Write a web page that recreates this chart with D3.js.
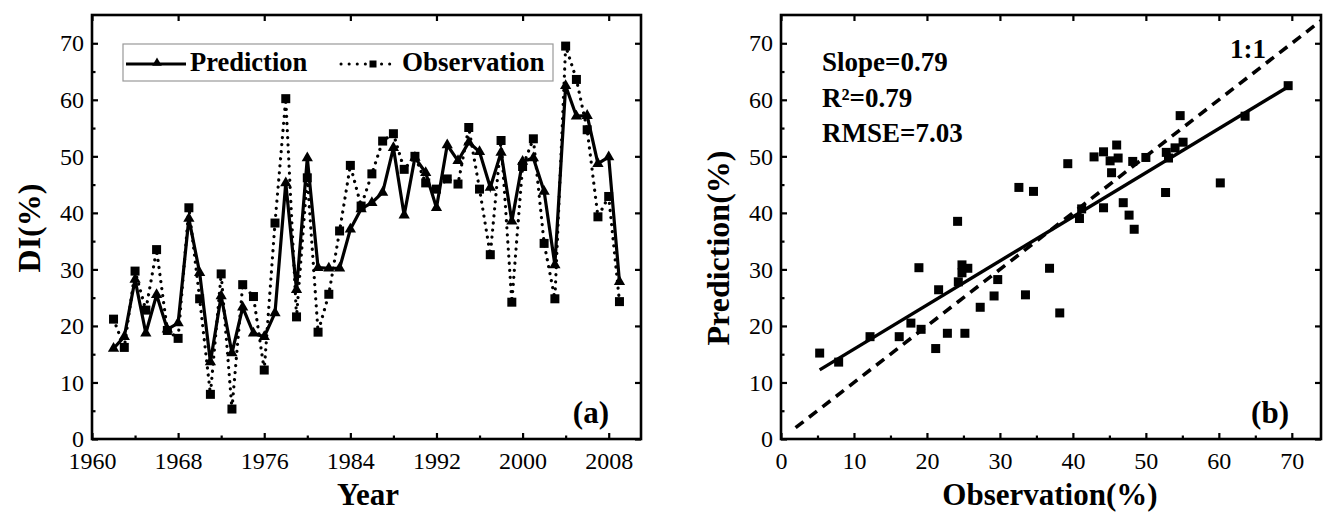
<!DOCTYPE html>
<html>
<head>
<meta charset="utf-8">
<script src="https://cdn.jsdelivr.net/npm/d3@7"></script>
<style>
  body { margin: 0; background: #fff; }
  text { font-family: "Liberation Serif", "Times New Roman", serif; fill: #000; }
  .tick text { font-size: 24px; }
  .bold { font-weight: bold; }
</style>
</head>
<body>
<svg id="chart" width="1323" height="513"></svg>
<script>
// years 1962 - 2009
let years = d3.range(1962, 2010);

let prediction = [
  16.0, 18.1, 28.2, 18.7, 25.5, 19.4, 20.5, 39.0, 29.4, 13.6,
  25.3, 15.2, 23.3, 18.7, 18.1, 22.3, 45.3, 26.4, 49.7, 30.3,
  30.2, 30.2, 37.1, 40.7, 41.8, 43.6, 51.5, 39.6, 49.8, 47.1,
  40.9, 52.0, 49.2, 52.5, 50.8, 44.5, 50.7, 38.5, 49.1, 49.7,
  43.8, 30.8, 62.5, 57.1, 57.2, 48.7, 49.9, 27.8,
];

let observation = [
  21.2, 16.2, 29.7, 22.8, 33.5, 19.2, 17.8, 40.9, 24.8, 7.9,
  29.2, 5.3, 27.3, 25.2, 12.2, 38.2, 60.2, 21.6, 46.2, 18.9,
  25.6, 36.8, 48.4, 41.2, 46.9, 52.7, 54.0, 47.7, 50.0, 45.3,
  44.2, 46.0, 45.1, 55.1, 44.2, 32.6, 52.8, 24.2, 48.2, 53.1,
  34.6, 24.8, 69.5, 63.6, 54.7, 39.3, 42.9, 24.3,
];

let yearTicks = [1960, 1968, 1976, 1984, 1992, 2000, 2008];
let yearMinorTicks = [1964, 1972, 1980, 1988, 1996, 2004];
let obsTicks = [0, 10, 20, 30, 40, 50, 60, 70];
let obsMinorTicks = [5, 15, 25, 35, 45, 55, 65];
let valueTicks = [0, 10, 20, 30, 40, 50, 60, 70];
let valueMinorTicks = [5, 15, 25, 35, 45, 55, 65];

// fitted line and stats
let fitSlope = 0.78;
let fitIntercept = 8.1;
let fitRange = [5.3, 69.5];
let statsText = ["Slope=0.79", "R²=0.79", "RMSE=7.03"];

let svg = d3.select("#chart");

let plotTop = 15;
let plotBottom = 439;

let leftBox = { x0: 92, x1: 641 };
let rightBox = { x0: 781, x1: 1321 };

let yScale = d3.scaleLinear().domain([0, 75]).range([plotBottom, plotTop]);
let xYear = d3.scaleLinear().domain([1960, 2011]).range([leftBox.x0, leftBox.x1]);
let xObs = d3.scaleLinear().domain([0, 74]).range([rightBox.x0, rightBox.x1]);

let data = years.map((y, i) => ({
  year: y,
  pred: prediction[i],
  obs: observation[i],
}));

drawFrame(xYear, yearTicks, yearMinorTicks, leftBox, "a");
drawFrame(xObs, obsTicks, obsMinorTicks, rightBox, "b");
drawTimeSeries();
drawScatter();
drawTitles();

function drawFrame(xScale, majors, minors, box, clipId) {
  let g = svg.append("g");

  svg
    .append("clipPath")
    .attr("id", "clip-" + clipId)
    .append("rect")
    .attr("x", box.x0)
    .attr("y", plotTop)
    .attr("width", box.x1 - box.x0)
    .attr("height", plotBottom - plotTop);

  // bottom axis, ticks pointing inward
  g.append("g")
    .attr("transform", `translate(0,${plotBottom})`)
    .call(d3.axisBottom(xScale).tickValues(majors).tickSize(-6).tickPadding(13).tickFormat(d3.format("d")));
  g.append("g")
    .attr("transform", `translate(0,${plotBottom})`)
    .call(d3.axisBottom(xScale).tickValues(minors).tickSize(-3.5).tickFormat(""));
  // top axis, majors only
  g.append("g")
    .attr("transform", `translate(0,${plotTop})`)
    .call(d3.axisTop(xScale).tickValues(majors).tickSize(-6).tickFormat(""));

  // left axis
  g.append("g")
    .attr("transform", `translate(${box.x0},0)`)
    .call(d3.axisLeft(yScale).tickValues(valueTicks).tickSize(-6).tickPadding(8));
  g.append("g")
    .attr("transform", `translate(${box.x0},0)`)
    .call(d3.axisLeft(yScale).tickValues(valueMinorTicks).tickSize(-3.5).tickFormat(""));
  // right axis
  g.append("g")
    .attr("transform", `translate(${box.x1},0)`)
    .call(d3.axisRight(yScale).tickValues(valueTicks).tickSize(-6).tickFormat(""));

  g.selectAll(".domain").remove();
  g.selectAll(".tick line").attr("stroke", "#000").attr("stroke-width", 2.2);
  g.selectAll(".tick text").attr("font-size", 24);

  g.append("rect")
    .attr("x", box.x0)
    .attr("y", plotTop)
    .attr("width", box.x1 - box.x0)
    .attr("height", plotBottom - plotTop)
    .attr("fill", "none")
    .attr("stroke", "#000")
    .attr("stroke-width", 2.6);

  svg
    .append("text")
    .attr("class", "bold")
    .attr("x", box.x1 - 32)
    .attr("y", 423)
    .attr("text-anchor", "end")
    .attr("font-size", 31)
    .text(`(${clipId})`);
}

function drawTimeSeries() {
  let body = svg.append("g").attr("clip-path", "url(#clip-a)");

  let obsLine = d3.line().x((d) => xYear(d.year)).y((d) => yScale(d.obs));
  let predLine = d3.line().x((d) => xYear(d.year)).y((d) => yScale(d.pred));

  body
    .append("path")
    .datum(data)
    .attr("d", obsLine)
    .attr("fill", "none")
    .attr("stroke", "#000")
    .attr("stroke-width", 3.2)
    .attr("stroke-linecap", "round")
    .attr("stroke-dasharray", "0.1,7");

  body
    .append("path")
    .datum(data)
    .attr("d", predLine)
    .attr("fill", "none")
    .attr("stroke", "#000")
    .attr("stroke-width", 3.2)
    .attr("stroke-linejoin", "miter");

  body
    .selectAll(".tri")
    .data(data)
    .enter()
    .append("path")
    .attr("class", "tri")
    .attr("d", d3.symbol(d3.symbolTriangle, 55))
    .attr("transform", (d) => `translate(${xYear(d.year)},${yScale(d.pred)})`)
    .attr("fill", "#000");

  body
    .selectAll(".sq")
    .data(data)
    .enter()
    .append("rect")
    .attr("class", "sq")
    .attr("x", (d) => xYear(d.year) - 4.5)
    .attr("y", (d) => yScale(d.obs) - 4.5)
    .attr("width", 9)
    .attr("height", 9)
    .attr("fill", "#000");

  // legend
  let lg = svg.append("g");
  lg.append("rect")
    .attr("x", 123)
    .attr("y", 44)
    .attr("width", 430)
    .attr("height", 37)
    .attr("fill", "#fff")
    .attr("stroke", "#999")
    .attr("stroke-width", 1.2);
  lg.append("line")
    .attr("x1", 126).attr("x2", 186).attr("y1", 64).attr("y2", 64)
    .attr("stroke", "#000").attr("stroke-width", 3.2);
  lg.append("path")
    .attr("d", d3.symbol(d3.symbolTriangle, 40))
    .attr("transform", "translate(157,63)")
    .attr("fill", "#000");
  lg.append("text")
    .attr("class", "bold")
    .attr("x", 190).attr("y", 71)
    .attr("font-size", 26.5)
    .text("Prediction");
  lg.append("line")
    .attr("x1", 341).attr("x2", 397).attr("y1", 64).attr("y2", 64)
    .attr("stroke", "#000").attr("stroke-width", 3)
    .attr("stroke-linecap", "round")
    .attr("stroke-dasharray", "0.1,8");
  lg.append("rect")
    .attr("x", 369.5).attr("y", 60.5).attr("width", 7).attr("height", 7)
    .attr("fill", "#000");
  lg.append("text")
    .attr("class", "bold")
    .attr("x", 402).attr("y", 71)
    .attr("font-size", 27)
    .text("Observation");
}

function drawScatter() {
  let body = svg.append("g").attr("clip-path", "url(#clip-b)");

  body
    .append("line")
    .attr("x1", xObs(2))
    .attr("y1", yScale(2))
    .attr("x2", xObs(80))
    .attr("y2", yScale(80))
    .attr("stroke", "#000")
    .attr("stroke-width", 3.6)
    .attr("stroke-dasharray", "10,7");

  body
    .append("line")
    .attr("x1", xObs(fitRange[0]))
    .attr("y1", yScale(fitSlope * fitRange[0] + fitIntercept))
    .attr("x2", xObs(fitRange[1]))
    .attr("y2", yScale(fitSlope * fitRange[1] + fitIntercept))
    .attr("stroke", "#000")
    .attr("stroke-width", 3.4);

  body
    .selectAll(".pt")
    .data(data)
    .enter()
    .append("rect")
    .attr("class", "pt")
    .attr("x", (d) => xObs(d.obs) - 4.5)
    .attr("y", (d) => yScale(d.pred) - 4.5)
    .attr("width", 9)
    .attr("height", 9)
    .attr("fill", "#000");

  svg
    .selectAll(".stat")
    .data(statsText)
    .enter()
    .append("text")
    .attr("class", "stat bold")
    .attr("x", 822)
    .attr("y", (d, i) => 71 + i * 35.5)
    .attr("font-size", 27)
    .text((d) => d);

  svg
    .append("text")
    .attr("class", "bold")
    .attr("x", 1230)
    .attr("y", 58)
    .attr("font-size", 27)
    .text("1:1");
}

function drawTitles() {
  svg
    .append("text")
    .attr("class", "bold")
    .attr("x", 368)
    .attr("y", 505)
    .attr("text-anchor", "middle")
    .attr("font-size", 31)
    .text("Year");

  svg
    .append("text")
    .attr("class", "bold")
    .attr("x", 1050)
    .attr("y", 505)
    .attr("text-anchor", "middle")
    .attr("font-size", 31)
    .text("Observation(%)");

  svg
    .append("text")
    .attr("class", "bold")
    .attr("transform", "translate(40,228) rotate(-90)")
    .attr("text-anchor", "middle")
    .attr("font-size", 32)
    .text("DI(%)");

  svg
    .append("text")
    .attr("class", "bold")
    .attr("transform", "translate(729,248) rotate(-90)")
    .attr("text-anchor", "middle")
    .attr("font-size", 32)
    .text("Prediction(%)");
}
</script>
</body>
</html>
